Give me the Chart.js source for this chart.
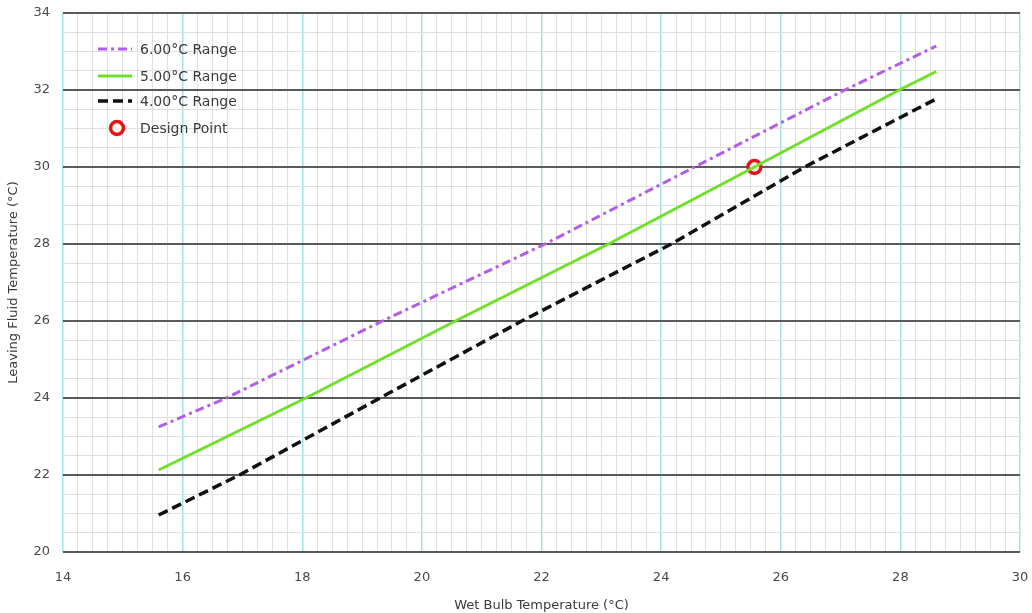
<!DOCTYPE html>
<html>
<head>
<meta charset="utf-8">
<script src="https://cdn.jsdelivr.net/npm/chart.js@4/dist/chart.umd.min.js"></script>
<style>
  html, body { margin: 0; padding: 0; background: #fff; }
  #wrap { width: 1032px; height: 613px; }
</style>
</head>
<body>
<div id="wrap"><canvas id="myChart" width="1032" height="613"></canvas></div>
<script>
// values (x = wet bulb, y = leaving fluid)
const range6x = [15.6, 16.73, 19.34, 22.06, 24.56, 27.07, 28.6];
const range6y = [23.25, 24, 26, 28, 30, 32, 33.14];
const range5x = [15.6, 18.06, 20.56, 23.12, 25.56, 27.98, 28.6];
const range5y = [22.13, 24, 26, 28, 30, 32, 32.48];
const range4x = [15.6, 16.95, 19.3, 21.67, 24.17, 26.4, 28.6];
const range4y = [20.96, 22, 24, 26, 28, 30, 31.77];
const designX = [25.56];
const designY = [30];
const seriesLabels = ["6.00°C Range", "5.00°C Range", "4.00°C Range", "Design Point"];

const toPts = (xs, ys) => xs.map((x, i) => ({x: x, y: ys[i]}));
const isMajor = (v) => Math.abs(v - Math.round(v / 2) * 2) < 1e-6;
const FONT = "'DejaVu Sans', sans-serif";

// legend drawn inside the plot, top left
const innerLegend = {
  id: 'innerLegend',
  afterDatasetsDraw(chart) {
    const c = chart.ctx;
    const rows = [49, 76, 101, 128];
    c.save();
    c.font = "14px " + FONT;
    c.fillStyle = '#3a3a3a';
    c.textBaseline = 'middle';
    chart.data.datasets.forEach((ds, i) => {
      const y = rows[i];
      if (ds.showLine) {
        c.strokeStyle = ds.borderColor;
        c.lineWidth = ds.borderWidth;
        c.setLineDash(ds.borderDash || []);
        c.beginPath();
        c.moveTo(98, y);
        c.lineTo(132, y);
        c.stroke();
        c.setLineDash([]);
      } else {
        c.strokeStyle = ds.pointBorderColor;
        c.fillStyle = ds.pointBackgroundColor;
        c.lineWidth = ds.pointBorderWidth;
        c.beginPath();
        c.arc(117, y, ds.pointRadius, 0, Math.PI * 2);
        c.fill();
        c.stroke();
        c.fillStyle = '#3a3a3a';
      }
      c.fillText(ds.label, 140, y + 1);
    });
    c.restore();
  }
};

const ctx = document.getElementById("myChart").getContext('2d');
const myChart = new Chart(ctx, {
  type: 'scatter',
  data: {
    datasets: [{
        label: seriesLabels[0],
        data: toPts(range6x, range6y),
        showLine: true,
        borderColor: '#b25ee6',
        borderWidth: 3,
        borderDash: [9, 4, 3, 4],
        pointRadius: 0
      }, {
        label: seriesLabels[1],
        data: toPts(range5x, range5y),
        showLine: true,
        borderColor: '#6ee02a',
        borderWidth: 3,
        pointRadius: 0
      }, {
        label: seriesLabels[2],
        data: toPts(range4x, range4y),
        showLine: true,
        borderColor: '#111',
        borderWidth: 3.5,
        borderDash: [10, 5],
        pointRadius: 0
      }, {
        label: seriesLabels[3],
        data: toPts(designX, designY),
        showLine: false,
        pointRadius: 6.5,
        pointBorderWidth: 3.5,
        pointBorderColor: '#e0141e',
        pointBackgroundColor: '#fff8e0'
      }]
  },
  options: {
    responsive: false,
    animation: false,
    layout: { padding: { top: 13, right: 12, left: 0, bottom: 0 } },
    plugins: {
      legend: { display: false },
      tooltip: { enabled: false }
    },
    scales: {
      x: {
        type: 'linear',
        min: 14,
        max: 30,
        border: { display: false },
        grid: {
          drawTicks: false,
          color: (c) => isMajor(c.tick.value) ? '#a6e2e2' : '#e0dede',
          lineWidth: (c) => isMajor(c.tick.value) ? 1.5 : 1
        },
        ticks: {
          stepSize: 0.25,
          autoSkip: false,
          maxRotation: 0,
          padding: 18,
          color: '#4a4a4a',
          font: { family: FONT, size: 13 },
          callback: (v) => isMajor(v) ? String(Math.round(v)) : ''
        },
        title: {
          display: true,
          text: 'Wet Bulb Temperature (°C)',
          color: '#3a3a3a',
          font: { family: FONT, size: 13 },
          padding: { top: 4, bottom: 0 }
        },
        afterFit: (s) => {
          s.height = 61;
          s.paddingLeft = 0;
          s.paddingRight = 0;
        }
      },
      y: {
        type: 'linear',
        min: 20,
        max: 34,
        border: { display: false },
        grid: {
          drawTicks: false,
          color: (c) => isMajor(c.tick.value) ? '#5a5a5a' : '#e0dede',
          lineWidth: (c) => isMajor(c.tick.value) ? 2 : 1
        },
        ticks: {
          stepSize: 0.5,
          autoSkip: false,
          padding: 13,
          color: '#4a4a4a',
          font: { family: FONT, size: 13 },
          callback: (v) => isMajor(v) ? String(Math.round(v)) : ''
        },
        title: {
          display: true,
          text: 'Leaving Fluid Temperature (°C)',
          color: '#3a3a3a',
          font: { family: FONT, size: 13 },
          padding: { top: 6, bottom: 0 }
        },
        afterFit: (s) => {
          s.width = 63;
          s.paddingTop = 0;
          s.paddingBottom = 0;
        }
      }
    }
  },
  plugins: [innerLegend]
});
</script>
</body>
</html>
